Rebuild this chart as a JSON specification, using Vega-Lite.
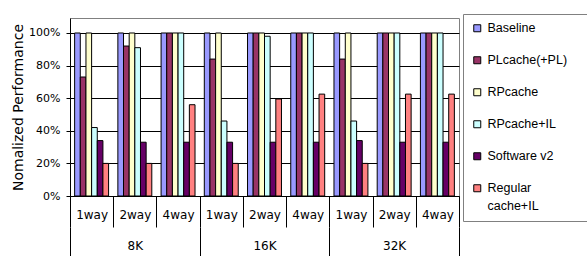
{
  "$schema": "https://vega.github.io/schema/vega-lite/v6.json",
  "autosize": {"type": "none"},
  "width": 389,
  "height": 178,
  "padding": {"left": 70, "top": 18, "right": 128, "bottom": 60},
  "background": "white",
  "config": {"font": "DejaVu Sans", "view": {"stroke": "#808080", "strokeWidth": 1}},
  "layer": [
    {
      "data": {"values": [
        {"c": "8K/1way", "s": "Baseline", "v": 1},
        {"c": "8K/1way", "s": "PLcache(+PL)", "v": 0.73},
        {"c": "8K/1way", "s": "RPcache", "v": 1},
        {"c": "8K/1way", "s": "RPcache+IL", "v": 0.42},
        {"c": "8K/1way", "s": "Software v2", "v": 0.34},
        {"c": "8K/1way", "s": "Regular cache+IL", "v": 0.2},
        {"c": "8K/2way", "s": "Baseline", "v": 1},
        {"c": "8K/2way", "s": "PLcache(+PL)", "v": 0.92},
        {"c": "8K/2way", "s": "RPcache", "v": 1},
        {"c": "8K/2way", "s": "RPcache+IL", "v": 0.91},
        {"c": "8K/2way", "s": "Software v2", "v": 0.33},
        {"c": "8K/2way", "s": "Regular cache+IL", "v": 0.2},
        {"c": "8K/4way", "s": "Baseline", "v": 1},
        {"c": "8K/4way", "s": "PLcache(+PL)", "v": 1},
        {"c": "8K/4way", "s": "RPcache", "v": 1},
        {"c": "8K/4way", "s": "RPcache+IL", "v": 1},
        {"c": "8K/4way", "s": "Software v2", "v": 0.33},
        {"c": "8K/4way", "s": "Regular cache+IL", "v": 0.56},
        {"c": "16K/1way", "s": "Baseline", "v": 1},
        {"c": "16K/1way", "s": "PLcache(+PL)", "v": 0.84},
        {"c": "16K/1way", "s": "RPcache", "v": 1},
        {"c": "16K/1way", "s": "RPcache+IL", "v": 0.46},
        {"c": "16K/1way", "s": "Software v2", "v": 0.33},
        {"c": "16K/1way", "s": "Regular cache+IL", "v": 0.2},
        {"c": "16K/2way", "s": "Baseline", "v": 1},
        {"c": "16K/2way", "s": "PLcache(+PL)", "v": 1},
        {"c": "16K/2way", "s": "RPcache", "v": 1},
        {"c": "16K/2way", "s": "RPcache+IL", "v": 0.98},
        {"c": "16K/2way", "s": "Software v2", "v": 0.33},
        {"c": "16K/2way", "s": "Regular cache+IL", "v": 0.595},
        {"c": "16K/4way", "s": "Baseline", "v": 1},
        {"c": "16K/4way", "s": "PLcache(+PL)", "v": 1},
        {"c": "16K/4way", "s": "RPcache", "v": 1},
        {"c": "16K/4way", "s": "RPcache+IL", "v": 1},
        {"c": "16K/4way", "s": "Software v2", "v": 0.33},
        {"c": "16K/4way", "s": "Regular cache+IL", "v": 0.625},
        {"c": "32K/1way", "s": "Baseline", "v": 1},
        {"c": "32K/1way", "s": "PLcache(+PL)", "v": 0.84},
        {"c": "32K/1way", "s": "RPcache", "v": 1},
        {"c": "32K/1way", "s": "RPcache+IL", "v": 0.46},
        {"c": "32K/1way", "s": "Software v2", "v": 0.34},
        {"c": "32K/1way", "s": "Regular cache+IL", "v": 0.2},
        {"c": "32K/2way", "s": "Baseline", "v": 1},
        {"c": "32K/2way", "s": "PLcache(+PL)", "v": 1},
        {"c": "32K/2way", "s": "RPcache", "v": 1},
        {"c": "32K/2way", "s": "RPcache+IL", "v": 1},
        {"c": "32K/2way", "s": "Software v2", "v": 0.33},
        {"c": "32K/2way", "s": "Regular cache+IL", "v": 0.625},
        {"c": "32K/4way", "s": "Baseline", "v": 1},
        {"c": "32K/4way", "s": "PLcache(+PL)", "v": 1},
        {"c": "32K/4way", "s": "RPcache", "v": 1},
        {"c": "32K/4way", "s": "RPcache+IL", "v": 1},
        {"c": "32K/4way", "s": "Software v2", "v": 0.33},
        {"c": "32K/4way", "s": "Regular cache+IL", "v": 0.625}
      ]},
      "mark": {"type": "bar", "stroke": "black", "strokeWidth": 1},
      "encoding": {
        "x": {
          "field": "c", "type": "nominal", "sort": null,
          "scale": {"paddingInner": 0, "paddingOuter": 0},
          "axis": {
            "title": null,
            "labelExpr": "split(datum.label, '/')[1]",
            "labelAngle": 0,
            "labelFontSize": 12,
            "labelColor": "black",
            "domainColor": "black",
            "tickColor": "black",
            "tickBand": "extent",
            "tickSize": 31,
            "labelPadding": -18
          }
        },
        "xOffset": {
          "field": "s", "type": "nominal", "sort": null,
          "scale": {"paddingInner": 0, "paddingOuter": 0.82}
        },
        "y": {
          "field": "v", "type": "quantitative",
          "scale": {"domain": [0, 1.092], "nice": false},
          "axis": {
            "title": "Nomalized Performance",
            "titleFontSize": 14,
            "titleFontWeight": "normal",
            "titleColor": "black",
            "titlePadding": 3,
            "format": "%",
            "values": [0, 0.2, 0.4, 0.6, 0.8, 1],
            "labelFontSize": 11,
            "labelColor": "black",
            "labelPadding": 6,
            "tickSize": 4,
            "tickColor": "black",
            "domainColor": "black",
            "gridColor": "black",
            "gridOpacity": 1
          }
        },
        "color": {
          "field": "s", "type": "nominal", "sort": null,
          "scale": {
            "domain": ["Baseline", "PLcache(+PL)", "RPcache", "RPcache+IL", "Software v2", "Regular cache+IL"],
            "range": ["#9999FF", "#993366", "#FFFFCC", "#CCFFFF", "#660066", "#FF8080"]
          },
          "legend": {
            "orient": "none",
            "legendX": 393,
            "legendY": -4,
            "title": null,
            "symbolType": "square",
            "symbolSize": 49,
            "symbolStrokeColor": "black",
            "symbolStrokeWidth": 1,
            "labelFont": "Liberation Sans",
            "labelFontSize": 12.5,
            "labelColor": "black",
            "labelOffset": 4,
            "labelLimit": 300,
            "rowPadding": 19,
            "padding": 8,
            "strokeColor": "#808080",
            "fillColor": "white",
            "labelExpr": "datum.label == 'Regular cache+IL' ? ['Regular', 'cache+IL'] : datum.label == 'PLcache(+PL)' ? datum.label + '\u2800\u2800' : datum.label",
            "encode": {"labels": {"update": {"lineHeight": {"value": 18}}}}
          }
        }
      }
    },
    {
      "data": {"values": [{"k": "8K"}, {"k": "16K"}, {"k": "32K"}]},
      "mark": {"type": "point", "opacity": 0},
      "encoding": {
        "x": {
          "field": "k", "type": "nominal", "sort": null,
          "scale": {"type": "band", "paddingInner": 0, "paddingOuter": 0},
          "axis": {
            "title": null,
            "orient": "bottom",
            "offset": 31,
            "domain": false,
            "labelAngle": 0,
            "labelFontSize": 12,
            "labelColor": "black",
            "tickColor": "black",
            "tickBand": "extent",
            "tickSize": 30,
            "labelPadding": -17
          }
        }
      }
    }
  ],
  "resolve": {"scale": {"x": "independent"}, "axis": {"x": "independent"}}
}
